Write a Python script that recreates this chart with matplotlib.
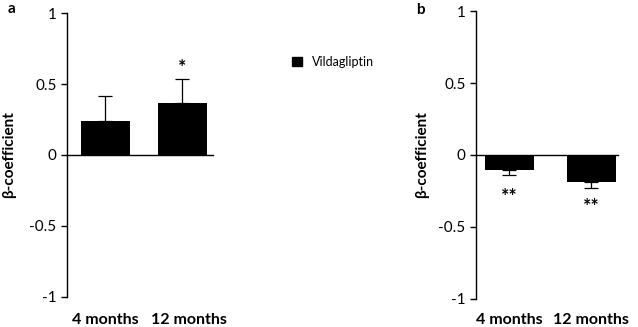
import matplotlib
matplotlib.use("Agg")
import matplotlib.pyplot as plt
from matplotlib.patches import Patch
from matplotlib.transforms import blended_transform_factory

plt.rcParams['font.family'] = ['Lato', 'DejaVu Sans']

# data
categories = ['4 months', '12 months']
beta_a = [0.24, 0.365]
err_a = [0.175, 0.17]
stars_a = ['', '*']
beta_b = [-0.105, -0.19]
err_b = [0.035, 0.04]
stars_b = ['**', '**']
legend_label = 'Vildagliptin'

fig = plt.figure(figsize=(6.38, 3.27), dpi=100)
ax1 = fig.add_axes([0.105, 0.092, 0.229, 0.868])
ax2 = fig.add_axes([0.746, 0.086, 0.2226, 0.880])


def panel(ax, vals, errs, stars, xlim, width, star_y, lab_shift, ylab_x):
    x = list(range(len(vals)))
    lower = [e if v < 0 else 0 for v, e in zip(vals, errs)]
    upper = [e if v >= 0 else 0 for v, e in zip(vals, errs)]
    ax.bar(x, vals, width=width, color='black', zorder=2)
    ax.errorbar(x, vals, yerr=[lower, upper], fmt='none', ecolor='black',
                elinewidth=0.9, capsize=5, capthick=0.9, zorder=3)
    ax.set_ylim(-1, 1)
    ax.set_xlim(*xlim)
    ax.set_yticks([-1, -0.5, 0, 0.5, 1])
    ax.set_yticklabels(['-1', '-0.5', '0', '0.5', '1'])
    ax.spines['top'].set_visible(False)
    ax.spines['right'].set_visible(False)
    ax.spines['bottom'].set_position(('data', 0))
    ax.spines['left'].set_linewidth(1)
    ax.spines['bottom'].set_linewidth(1)
    ax.tick_params(axis='x', length=0, labelbottom=False)
    ax.tick_params(axis='y', direction='out', length=4, width=1, labelsize=11)
    ax.set_ylabel('β-coefficient', fontsize=11, fontweight='bold')
    ax.yaxis.set_label_coords(ylab_x, 0.5)
    ax.yaxis.label.set_verticalalignment('center')
    for xi, s, sy in zip(x, stars, star_y):
        if s:
            ax.text(xi, sy, s, ha='center', va='center', fontsize=14, fontweight='bold')
    tr = blended_transform_factory(ax.transData, fig.transFigure)
    for xi, c in zip(x, categories):
        ax.text(xi + lab_shift * xi, 1 - 320 / 327, c, transform=tr,
                ha='center', va='center', fontsize=11.5, fontweight='bold')


panel(ax1, beta_a, err_a, stars_a, (-0.5, 1.4), 0.64, [0, 0.62], 0.08, -0.397)
panel(ax2, beta_b, err_b, stars_b, (-0.41, 1.33), 0.6, [-0.29, -0.36], 0.0, -0.38)

fig.text(12 / 638, 1 - 9 / 327, 'a', fontsize=11, fontweight='bold', ha='center', va='center')
fig.text(420 / 638, 1 - 10 / 327, 'b', fontsize=11, fontweight='bold', ha='center', va='center')

fig.legend(handles=[Patch(facecolor='black', edgecolor='black', label=legend_label)],
           loc='center left', bbox_to_anchor=(286 / 638, 1 - 62 / 327),
           frameon=False, handlelength=0.75, handleheight=0.75,
           handletextpad=0.8, borderpad=0, fontsize=9)

fig.savefig('out.png', dpi=100)
